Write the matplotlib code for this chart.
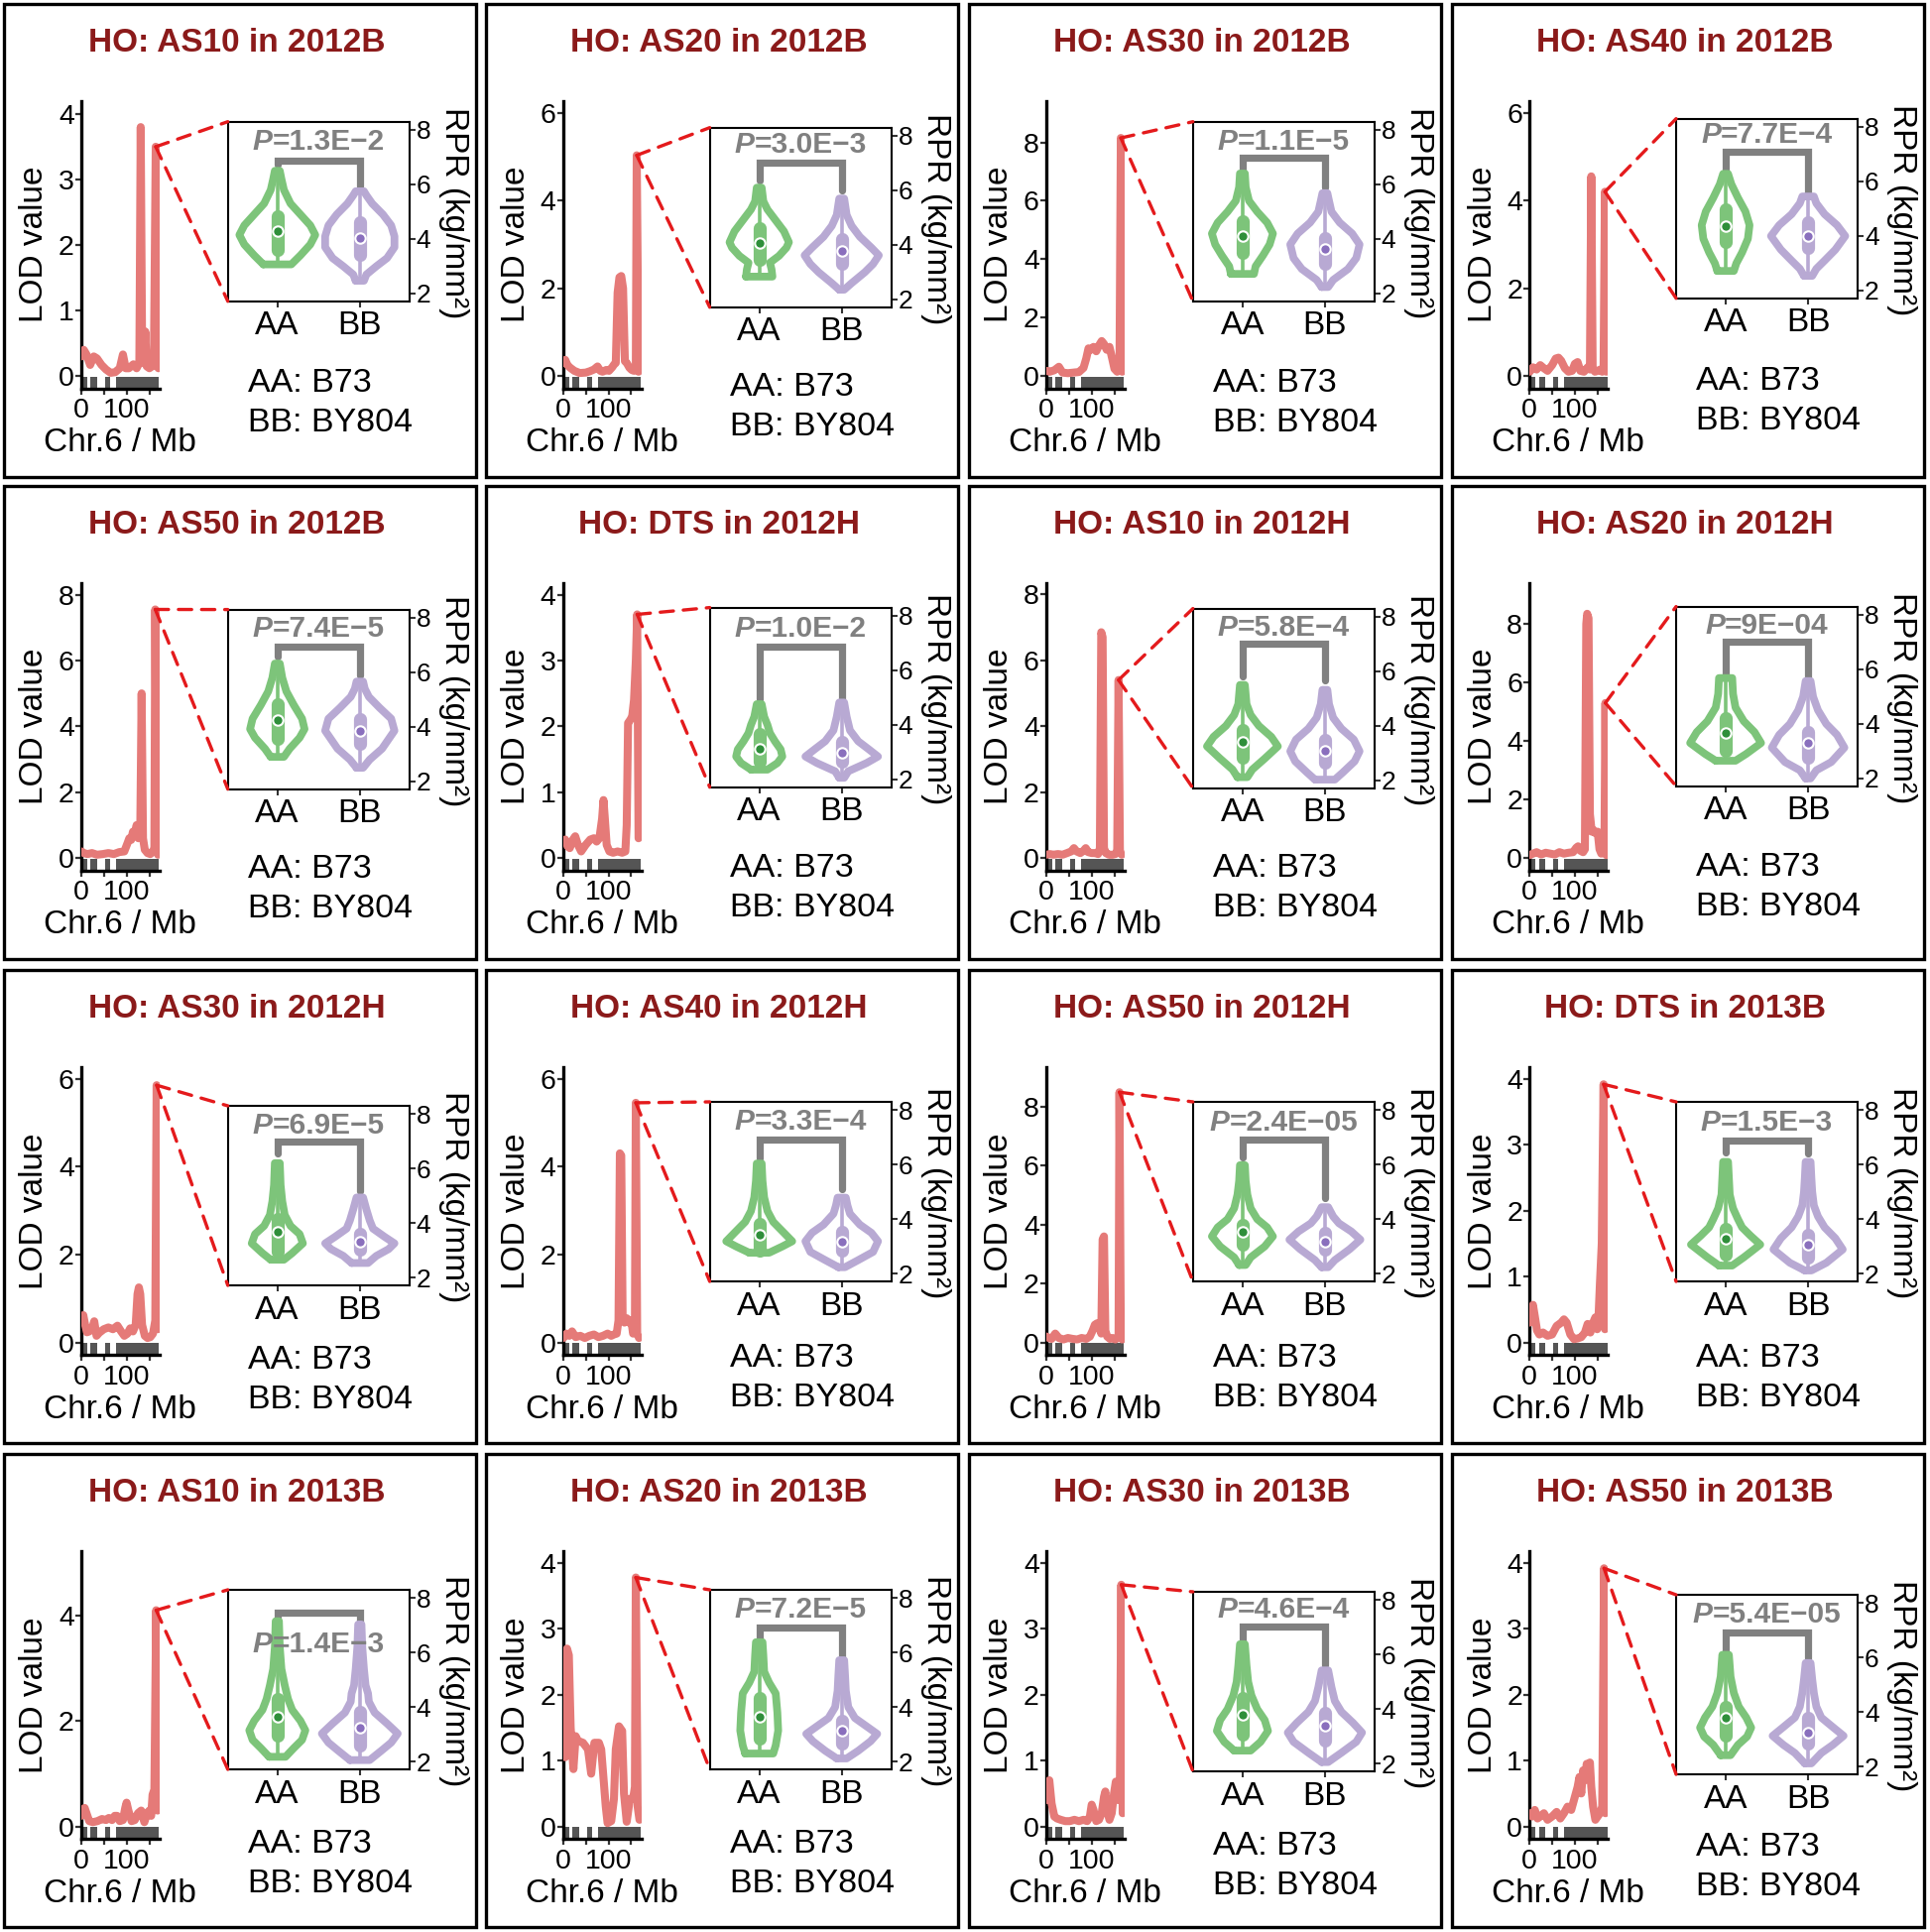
import matplotlib
matplotlib.use('Agg')
import matplotlib.pyplot as plt
from matplotlib.patches import Rectangle, ConnectionPatch
from matplotlib.offsetbox import TextArea, HPacker, AnnotationBbox
import numpy as np

plt.rcParams['font.family'] = ['Liberation Sans', 'DejaVu Sans']

# ---------------- data ----------------
TITLES = ["HO: AS10 in 2012B", "HO: AS20 in 2012B", "HO: AS30 in 2012B", "HO: AS40 in 2012B",
          "HO: AS50 in 2012B", "HO: DTS in 2012H", "HO: AS10 in 2012H", "HO: AS20 in 2012H",
          "HO: AS30 in 2012H", "HO: AS40 in 2012H", "HO: AS50 in 2012H", "HO: DTS in 2013B",
          "HO: AS10 in 2013B", "HO: AS20 in 2013B", "HO: AS30 in 2013B", "HO: AS50 in 2013B"]
P_VALUES = ["=1.3E\u22122", "=3.0E\u22123", "=1.1E\u22125", "=7.7E\u22124",
            "=7.4E\u22125", "=1.0E\u22122", "=5.8E\u22124", "=9E\u221204",
            "=6.9E\u22125", "=3.3E\u22124", "=2.4E\u221205", "=1.5E\u22123",
            "=1.4E\u22123", "=7.2E\u22125", "=4.6E\u22124", "=5.4E\u221205"]
GROUPS = ["AA", "BB"]
PARENT_TEXT = ["AA: B73", "BB: BY804"]

LOD_TOP = [4.2, 6.27, 9.42, 6.27, 8.36, 4.18, 8.35, 9.41, 6.26, 6.26, 9.35, 4.18, 5.22, 4.18, 4.18, 4.18]
LOD_TICKMAX = [4, 6, 8, 6, 8, 4, 8, 8, 6, 6, 8, 4, 4, 4, 4, 4]
LOD_STEP = [1, 2, 2, 2, 2, 1, 2, 2, 2, 2, 2, 1, 2, 1, 1, 1]

LOD_X = [
    [1, 6, 12, 20, 28, 35, 45, 55, 65, 75, 85, 92, 98, 105, 115, 122, 128, 131, 134, 138, 141, 144, 150, 156, 160, 164, 167, 170],
    [1, 5, 10, 16, 25, 37, 50, 59, 68, 76, 82, 87, 95, 101, 108, 112, 116, 120, 124, 128, 132, 136, 140, 146, 151, 156, 160, 162, 166],
    [1, 8, 18, 28, 36, 48, 60, 72, 82, 88, 93, 98, 104, 110, 116, 122, 127, 133, 139, 145, 150, 156, 161, 164, 167],
    [1, 8, 16, 24, 32, 40, 50, 58, 64, 70, 78, 86, 94, 100, 106, 112, 120, 128, 133, 136, 139, 144, 150, 156, 160, 163, 166, 169],
    [1, 6, 14, 24, 35, 48, 60, 72, 84, 95, 102, 106, 110, 114, 118, 122, 126, 130, 133, 136, 140, 146, 152, 158, 161, 163, 166, 169],
    [1, 5, 10, 15, 22, 27, 33, 40, 50, 60, 68, 74, 80, 86, 89, 92, 96, 102, 110, 120, 130, 137, 140, 143, 148, 152, 156, 160, 163, 166],
    [1, 8, 16, 26, 36, 46, 55, 61, 67, 75, 82, 87, 92, 100, 108, 114, 118, 121, 124, 127, 131, 138, 146, 152, 156, 159, 162, 166],
    [1, 8, 16, 26, 36, 46, 56, 66, 76, 86, 96, 103, 107, 112, 118, 122, 125, 127, 130, 133, 137, 141, 145, 150, 154, 158, 162, 165, 167, 169],
    [1, 5, 9, 13, 18, 24, 29, 34, 40, 50, 60, 70, 80, 88, 95, 102, 108, 114, 120, 124, 127, 130, 134, 140, 146, 152, 158, 163, 166, 169],
    [1, 8, 14, 20, 28, 38, 48, 58, 68, 78, 88, 98, 106, 112, 118, 122, 125, 128, 131, 135, 140, 145, 150, 154, 158, 160, 163, 167],
    [1, 6, 12, 20, 28, 38, 48, 58, 68, 78, 88, 96, 102, 107, 112, 117, 121, 124, 127, 130, 134, 140, 146, 152, 156, 159, 161, 164, 167],
    [1, 4, 8, 12, 17, 22, 30, 40, 50, 60, 70, 76, 82, 90, 98, 106, 114, 122, 128, 134, 140, 145, 149, 152, 155, 159, 163, 166],
    [1, 5, 8, 12, 18, 26, 36, 46, 55, 61, 68, 74, 79, 85, 92, 97, 100, 104, 111, 118, 125, 132, 139, 145, 150, 154, 157, 161, 165, 168],
    [5, 9, 13, 17, 23, 28, 33, 44, 55, 62, 69, 79, 84, 94, 98, 106, 112, 116, 123, 130, 134, 140, 147, 154, 158, 160, 164, 168],
    [1, 4, 7, 12, 18, 24, 32, 42, 52, 62, 72, 82, 90, 96, 100, 104, 110, 116, 122, 127, 130, 134, 139, 144, 149, 153, 158, 162, 165, 168],
    [1, 6, 12, 18, 24, 32, 40, 50, 60, 68, 76, 84, 92, 100, 106, 110, 114, 118, 122, 126, 130, 133, 136, 140, 145, 150, 155, 160, 164, 167],
]
LOD_Y = [
    [0.3, 0.4, 0.33, 0.17, 0.3, 0.27, 0.17, 0.1, 0.05, 0.06, 0.12, 0.33, 0.12, 0.12, 0.18, 0.12, 0.2, 3.8, 0.5, 0.2, 0.68, 0.15, 0.12, 0.15, 0.25, 3.5, 0.15, 0.12],
    [0.3, 0.37, 0.25, 0.19, 0.12, 0.07, 0.08, 0.11, 0.15, 0.22, 0.12, 0.1, 0.14, 0.12, 0.2, 0.26, 0.3, 1.9, 2.25, 2.28, 2.0, 0.34, 0.3, 0.19, 0.14, 0.12, 0.2, 5.03, 0.1],
    [0.18, 0.15, 0.2, 0.32, 0.12, 0.1, 0.12, 0.14, 0.28, 0.6, 0.95, 0.9, 1.0, 0.85, 1.05, 1.2, 1.1, 0.9, 1.0, 0.6, 0.25, 0.15, 0.2, 8.15, 0.15],
    [0.1, 0.2, 0.15, 0.25, 0.18, 0.12, 0.25, 0.4, 0.42, 0.35, 0.18, 0.1, 0.12, 0.28, 0.32, 0.12, 0.1, 0.2, 0.15, 4.55, 0.2, 0.1, 0.12, 0.15, 0.1, 0.2, 4.2, 0.1],
    [0.2, 0.15, 0.12, 0.15, 0.1, 0.12, 0.15, 0.12, 0.18, 0.2, 0.45, 0.6, 0.55, 0.8, 0.7, 1.0, 0.6, 0.8, 5.0, 0.6, 0.25, 0.15, 0.12, 0.2, 0.3, 7.55, 0.2, 0.1],
    [0.25, 0.28, 0.18, 0.15, 0.28, 0.33, 0.2, 0.1, 0.2, 0.28, 0.3, 0.25, 0.3, 0.6, 0.88, 0.6, 0.2, 0.1, 0.08, 0.1, 0.08, 0.1, 0.5, 2.05, 2.1, 2.15, 2.4, 3.0, 3.7, 0.3],
    [0.1, 0.12, 0.1, 0.12, 0.1, 0.15, 0.2, 0.3, 0.2, 0.15, 0.22, 0.3, 0.18, 0.15, 0.15, 0.12, 0.3, 6.85, 6.7, 0.3, 0.15, 0.1, 0.1, 0.12, 0.2, 5.4, 0.2, 0.1],
    [0.1, 0.15, 0.2, 0.12, 0.18, 0.15, 0.12, 0.2, 0.15, 0.18, 0.2, 0.35, 0.4, 0.25, 0.2, 0.3, 8.0, 8.35, 8.2, 1.5, 0.9, 0.95, 0.85, 0.9, 0.3, 0.15, 0.2, 0.5, 5.3, 0.1],
    [0.5, 0.62, 0.4, 0.23, 0.25, 0.3, 0.48, 0.15, 0.22, 0.3, 0.34, 0.3, 0.38, 0.25, 0.15, 0.2, 0.32, 0.25, 0.4, 1.1, 1.25, 1.1, 0.4, 0.15, 0.1, 0.12, 0.2, 0.5, 5.85, 0.3],
    [0.1, 0.2, 0.15, 0.25, 0.12, 0.15, 0.1, 0.15, 0.18, 0.12, 0.15, 0.2, 0.15, 0.18, 0.2, 0.5, 4.3, 4.25, 0.6, 0.45, 0.55, 0.45, 0.5, 0.2, 0.3, 5.45, 0.2, 0.1],
    [0.2, 0.15, 0.12, 0.3, 0.15, 0.1, 0.15, 0.12, 0.1, 0.15, 0.12, 0.2, 0.4, 0.6, 0.65, 0.5, 0.3, 3.5, 3.6, 0.4, 0.2, 0.12, 0.15, 0.1, 0.15, 0.2, 8.5, 0.2, 0.1],
    [0.3, 0.45, 0.57, 0.4, 0.18, 0.12, 0.15, 0.1, 0.12, 0.25, 0.3, 0.35, 0.3, 0.12, 0.05, 0.06, 0.08, 0.15, 0.28, 0.15, 0.3, 0.38, 0.2, 0.4, 0.9, 1.5, 3.92, 0.2],
    [0.2, 0.33, 0.35, 0.25, 0.1, 0.08, 0.1, 0.14, 0.12, 0.16, 0.12, 0.2, 0.2, 0.1, 0.12, 0.35, 0.45, 0.3, 0.1, 0.12, 0.25, 0.3, 0.08, 0.25, 0.3, 0.2, 0.6, 0.7, 4.1, 0.3],
    [1.05, 2.7, 2.6, 1.5, 0.87, 1.37, 1.3, 1.27, 1.17, 0.8, 1.27, 1.27, 1.17, 0.3, 0.05, 0.08, 0.42, 1.17, 1.52, 1.45, 0.5, 0.07, 0.42, 0.42, 0.6, 3.78, 0.3, 0.1],
    [0.4, 0.65, 0.7, 0.35, 0.15, 0.12, 0.1, 0.08, 0.08, 0.1, 0.08, 0.1, 0.08, 0.15, 0.33, 0.25, 0.08, 0.1, 0.2, 0.45, 0.53, 0.25, 0.1, 0.2, 0.5, 0.68, 0.4, 0.75, 3.67, 0.2],
    [0.2, 0.15, 0.25, 0.12, 0.15, 0.2, 0.1, 0.15, 0.22, 0.12, 0.2, 0.3, 0.25, 0.45, 0.6, 0.75, 0.5, 0.85, 0.7, 0.95, 0.8, 0.97, 0.6, 0.3, 0.1, 0.15, 0.2, 0.3, 3.92, 0.2],
]
# genotyped marker blocks along chr.6 (Mb)
MARKER_BLOCKS = [(2, 14), (21, 35), (53, 64), (77, 171)]

# violin outlines: RPR levels and half-widths
AA_Y = [[3.07, 3.4, 3.8, 4.15, 4.5, 4.9, 5.3, 5.8, 6.2, 6.5],
        [2.84, 3.1, 3.35, 3.6, 3.9, 4.1, 4.5, 4.9, 5.3, 5.6, 6.1],
        [2.72, 3.0, 3.4, 3.8, 4.2, 4.6, 5.0, 5.4, 5.9, 6.4],
        [2.72, 3.0, 3.4, 3.9, 4.4, 4.9, 5.4, 5.9, 6.28],
        [2.9, 3.2, 3.6, 3.92, 4.3, 4.8, 5.3, 5.8, 6.32],
        [2.36, 2.6, 2.84, 3.1, 3.4, 3.7, 4.0, 4.3, 4.76],
        [2.12, 2.4, 2.8, 3.25, 3.6, 4.0, 4.4, 4.8, 5.5],
        [2.65, 2.9, 3.3, 3.7, 4.1, 4.6, 5.1, 5.68],
        [2.66, 2.9, 3.26, 3.6, 3.9, 4.3, 4.8, 5.4, 6.2],
        [2.77, 3.0, 3.19, 3.5, 3.9, 4.3, 4.8, 5.4, 6.04],
        [2.32, 2.6, 3.0, 3.37, 3.7, 4.0, 4.4, 4.9, 5.4, 5.98],
        [2.3, 2.6, 3.07, 3.4, 3.7, 4.0, 4.4, 4.9, 5.5, 6.1],
        [2.18, 2.5, 2.8, 3.15, 3.5, 3.9, 4.3, 4.8, 5.4, 6.2, 7.15],
        [2.3, 2.6, 3.14, 3.8, 4.5, 4.9, 5.3, 5.9, 6.38],
        [2.48, 2.8, 3.2, 3.6, 4.0, 4.5, 5.0, 5.6, 6.38],
        [2.42, 2.8, 3.1, 3.43, 3.8, 4.2, 4.7, 5.3, 6.1]]
AA_W = [[0.17, 0.28, 0.40, 0.46, 0.40, 0.28, 0.16, 0.08, 0.05, 0.03],
        [0.16, 0.15, 0.13, 0.24, 0.33, 0.36, 0.30, 0.2, 0.1, 0.05, 0.03],
        [0.14, 0.16, 0.25, 0.33, 0.37, 0.30, 0.18, 0.08, 0.04, 0.03],
        [0.1, 0.13, 0.2, 0.27, 0.29, 0.24, 0.15, 0.07, 0.03],
        [0.08, 0.15, 0.27, 0.33, 0.3, 0.2, 0.11, 0.06, 0.03],
        [0.1, 0.22, 0.28, 0.26, 0.19, 0.13, 0.1, 0.06, 0.03],
        [0.06, 0.12, 0.27, 0.43, 0.35, 0.2, 0.1, 0.05, 0.03],
        [0.12, 0.25, 0.43, 0.35, 0.22, 0.12, 0.09, 0.08],
        [0.08, 0.18, 0.31, 0.27, 0.16, 0.09, 0.06, 0.04, 0.03],
        [0.12, 0.28, 0.4, 0.3, 0.17, 0.1, 0.06, 0.04, 0.03],
        [0.04, 0.1, 0.27, 0.37, 0.3, 0.18, 0.1, 0.06, 0.04, 0.03],
        [0.08, 0.22, 0.42, 0.3, 0.2, 0.15, 0.09, 0.05, 0.04, 0.03],
        [0.1, 0.2, 0.3, 0.34, 0.28, 0.18, 0.13, 0.09, 0.05, 0.03, 0.02],
        [0.17, 0.2, 0.23, 0.22, 0.2, 0.12, 0.06, 0.05, 0.04],
        [0.1, 0.22, 0.31, 0.27, 0.18, 0.11, 0.07, 0.05, 0.03],
        [0.06, 0.15, 0.26, 0.31, 0.25, 0.16, 0.1, 0.06, 0.04]]
BB_Y = [[2.47, 2.7, 3.0, 3.3, 3.7, 4.1, 4.5, 4.9, 5.3, 5.6, 5.75],
        [2.36, 2.6, 3.0, 3.3, 3.62, 3.9, 4.3, 4.7, 5.1, 5.7],
        [2.24, 2.5, 2.9, 3.3, 3.8, 4.2, 4.6, 5.0, 5.4, 5.68],
        [2.54, 2.8, 3.1, 3.5, 4.0, 4.4, 4.8, 5.2, 5.45],
        [2.5, 2.8, 3.2, 3.86, 4.3, 4.7, 5.1, 5.4, 5.66],
        [2.06, 2.3, 2.6, 2.84, 3.1, 3.4, 3.8, 4.3, 4.82],
        [2.03, 2.3, 2.7, 3.07, 3.5, 3.9, 4.3, 4.8, 5.32],
        [2.0, 2.3, 2.6, 3.13, 3.6, 4.0, 4.5, 5.0, 5.57],
        [2.54, 2.8, 3.05, 3.26, 3.5, 3.8, 4.1, 4.5, 4.94],
        [2.24, 2.5, 2.8, 3.19, 3.5, 3.8, 4.2, 4.5, 4.79],
        [2.24, 2.5, 2.9, 3.25, 3.55, 3.85, 4.1, 4.44],
        [2.12, 2.4, 2.89, 3.3, 3.7, 4.1, 4.5, 5.0, 5.5, 6.1],
        [2.06, 2.4, 2.7, 3.03, 3.4, 3.8, 4.2, 4.5, 4.8, 5.4, 6.2, 7.03],
        [2.12, 2.4, 2.75, 3.02, 3.3, 3.6, 4.0, 4.6, 5.2, 5.72],
        [2.06, 2.4, 2.8, 3.14, 3.5, 3.9, 4.3, 4.8, 5.42],
        [2.12, 2.5, 2.8, 3.13, 3.45, 3.8, 4.2, 4.7, 5.2, 5.8]]
BB_W = [[0.05, 0.08, 0.2, 0.33, 0.42, 0.42, 0.38, 0.28, 0.15, 0.08, 0.05],
        [0.03, 0.12, 0.28, 0.38, 0.45, 0.36, 0.22, 0.12, 0.06, 0.03],
        [0.04, 0.10, 0.28, 0.38, 0.42, 0.33, 0.18, 0.08, 0.05, 0.03],
        [0.05, 0.1, 0.2, 0.33, 0.45, 0.35, 0.2, 0.1, 0.07],
        [0.04, 0.12, 0.27, 0.42, 0.38, 0.24, 0.11, 0.06, 0.04],
        [0.03, 0.08, 0.3, 0.44, 0.33, 0.2, 0.1, 0.06, 0.03],
        [0.12, 0.22, 0.36, 0.42, 0.35, 0.2, 0.1, 0.05, 0.03],
        [0.03, 0.1, 0.28, 0.44, 0.35, 0.22, 0.12, 0.06, 0.03],
        [0.1, 0.2, 0.35, 0.42, 0.3, 0.16, 0.12, 0.08, 0.04],
        [0.04, 0.2, 0.38, 0.44, 0.36, 0.22, 0.1, 0.07, 0.05],
        [0.04, 0.12, 0.3, 0.43, 0.32, 0.17, 0.1, 0.04],
        [0.04, 0.22, 0.42, 0.33, 0.2, 0.12, 0.07, 0.05, 0.04, 0.03],
        [0.12, 0.26, 0.38, 0.46, 0.33, 0.18, 0.11, 0.1, 0.07, 0.05, 0.03, 0.02],
        [0.06, 0.2, 0.35, 0.43, 0.3, 0.16, 0.08, 0.05, 0.04, 0.03],
        [0.04, 0.2, 0.38, 0.45, 0.34, 0.2, 0.12, 0.08, 0.04],
        [0.04, 0.16, 0.3, 0.43, 0.3, 0.16, 0.1, 0.07, 0.05, 0.03]]
# boxplot (Q1, Q3, median)
AA_BOX = [(3.6, 4.85, 4.28), (3.44, 4.63, 4.07), (3.5, 4.64, 4.1), (3.79, 4.97, 4.38),
          (3.56, 4.82, 4.24), (2.66, 3.68, 3.14), (2.83, 3.84, 3.4), (3.01, 4.2, 3.66),
          (2.96, 4.16, 3.68), (2.83, 3.84, 3.42), (3.07, 3.78, 3.53), (2.71, 3.66, 3.3),
          (2.97, 4.3, 3.64), (2.84, 4.34, 3.64), (3.08, 4.4, 3.8), (3.13, 4.2, 3.78)]
BB_BOX = [(3.43, 4.6, 4.02), (3.31, 4.21, 3.79), (3.08, 4.04, 3.62), (3.55, 4.5, 4.0),
          (3.38, 4.28, 3.84), (2.66, 3.38, 2.98), (2.65, 3.49, 3.07), (2.77, 3.72, 3.3),
          (3.02, 3.62, 3.32), (2.83, 3.55, 3.17), (2.9, 3.49, 3.19), (2.6, 3.43, 3.07),
          (2.61, 3.82, 3.24), (2.66, 3.5, 3.14), (2.84, 3.86, 3.4), (2.83, 3.78, 3.25)]

# ---------------- layout / style ----------------
BRACKET_Y = [6.87, 7.02, 6.98, 7.1, 6.94, 6.88, 7.0, 7.0, 6.98, 6.93, 6.93, 6.87, 7.45, 6.92, 7.04, 6.93]
LEG_AA = [6.72, 6.36, 6.56, 6.4, 6.56, 4.94, 5.8, 5.81, 6.56, 6.22, 6.28, 6.46, 7.15, 6.44, 6.44, 6.16]
LEG_BB = [5.92, 6.0, 5.9, 5.57, 5.9, 4.94, 5.66, 5.63, 5.18, 5.09, 4.79, 6.4, 7.15, 5.78, 5.6, 5.98]
PTEXT_Y = [7.56, 7.68, 7.58, 7.7, 7.58, 7.52, 7.58, 7.58, 7.58, 7.58, 7.52, 7.52, 6.3, 7.58, 7.64, 7.58]
INSET_TOP = [119, 125, 119, 116, 125, 123, 124, 122, 137, 133, 133, 133, 137, 137, 139, 142]

W, H = 1946, 1948
PANEL_LEFT = [3.7, 489.6, 976.8, 1464]
PANEL_TOP = [3.7, 489.6, 978, 1466]
PANEL_W, PANEL_H = 476, 477

LOD_COLOR = '#E57A78'
GREEN, GREEN_DARK = '#7DC47A', '#2F8F3A'
PURPLE, PURPLE_DARK = '#B8A9D3', '#8A6FBD'
GRAY = '#808080'
RED = '#E41A1C'
TITLE_C = '#8B1A1A'
TRACK = '#555555'

fig = plt.figure(figsize=(W / 100, H / 100), dpi=100)


def fx(px):
    return px / W


def fy(py):
    return 1 - py / H


def draw_violin(ax, pos, ys, ws, box, color, dark):
    ys = np.asarray(ys, float)
    ws = np.asarray(ws, float)
    xo = np.concatenate([pos - ws, (pos + ws)[::-1], [pos - ws[0]]])
    yo = np.concatenate([ys, ys[::-1], [ys[0]]])
    ax.plot(xo, yo, color=color, lw=5.6, solid_joinstyle='round', solid_capstyle='round', zorder=3)
    ax.plot([pos, pos], [ys[0], ys[-1]], color=color, lw=2.6, zorder=3)
    q1, q3, med = box
    ax.plot([pos, pos], [q1, q3], color=color, lw=9.5, solid_capstyle='round', zorder=4)
    ax.plot([pos], [med], 'o', ms=7.5, mfc=dark, mec='white', mew=1.5, zorder=5)


for i in range(16):
    r, c = divmod(i, 4)
    L, T = PANEL_LEFT[c], PANEL_TOP[r]

    # panel frame
    fig.patches.append(Rectangle((fx(L), fy(T + PANEL_H)), PANEL_W / W, PANEL_H / H,
                                 transform=fig.transFigure, fill=False, lw=2.4, ec='black'))
    fig.text(fx(L + PANEL_W / 2 - 3), fy(T + 40), TITLES[i], ha='center', va='center',
             fontsize=24, fontweight='bold', color=TITLE_C)

    # ---- LOD profile ----
    ax = fig.add_axes([fx(L + 78), fy(T + 388), 79 / W, 290 / H])
    xs, ys = LOD_X[i], LOD_Y[i]
    ax.plot(xs, ys, color=LOD_COLOR, lw=5.8, solid_joinstyle='round', solid_capstyle='round', zorder=3)
    for a, b in MARKER_BLOCKS:
        ax.add_patch(Rectangle((a, 0), b - a, 0.04, transform=ax.get_xaxis_transform(),
                               color=TRACK, lw=0, zorder=2))
    top = LOD_TOP[i]
    ax.set_xlim(0, 172)
    ax.set_ylim(-0.045 * top, top)
    ax.set_yticks(np.arange(0, LOD_TICKMAX[i] + 0.01, LOD_STEP[i]))
    ax.set_xticks([0, 50, 100, 150])
    ax.set_xticklabels(['0', '', '100', ''])
    for s in ['top', 'right']:
        ax.spines[s].set_visible(False)
    for s in ['left', 'bottom']:
        ax.spines[s].set_linewidth(2.4)
    ax.tick_params(direction='out', length=4, width=1.6, labelsize=20.5, pad=1, color='#333333')
    ax.tick_params(axis='x', pad=3)
    fig.text(fx(L + 31), fy(T + 243), 'LOD value', rotation=90, ha='center', va='center', fontsize=24)
    fig.text(fx(L + 117), fy(T + 443), 'Chr.6 / Mb', ha='center', va='center', fontsize=24)

    # ---- violin inset ----
    itop = INSET_TOP[i]
    ins = fig.add_axes([fx(L + 226), fy(T + itop + 181), 183 / W, 181 / H])
    draw_violin(ins, 1, AA_Y[i], AA_W[i], AA_BOX[i], GREEN, GREEN_DARK)
    draw_violin(ins, 2, BB_Y[i], BB_W[i], BB_BOX[i], PURPLE, PURPLE_DARK)
    ins.plot([1, 1, 2, 2], [LEG_AA[i], BRACKET_Y[i], BRACKET_Y[i], LEG_BB[i]], color=GRAY, lw=5.2,
             solid_capstyle='round', solid_joinstyle='miter', zorder=2)
    pbox = HPacker(children=[TextArea('P', textprops=dict(fontsize=21.5, fontweight='bold', fontstyle='italic', color=GRAY)),
                             TextArea(P_VALUES[i], textprops=dict(fontsize=21.5, fontweight='bold', color=GRAY))],
                   pad=0, sep=0, align='baseline')
    ab = AnnotationBbox(pbox, (1.5, PTEXT_Y[i]), xycoords='data', frameon=False, box_alignment=(0.5, 0.5), zorder=6)
    ins.add_artist(ab)
    ins.set_xlim(0.4, 2.6)
    ins.set_ylim(1.72, 8.3)
    ins.yaxis.tick_right()
    ins.set_yticks([2, 4, 6, 8])
    ins.set_xticks([1, 2])
    ins.set_xticklabels(GROUPS)
    for s in ins.spines.values():
        s.set_linewidth(1.5)
    ins.tick_params(axis='y', direction='out', length=4, width=1.5, labelsize=19, pad=1, color='#333333')
    ins.tick_params(axis='x', direction='out', length=4, width=1.5, labelsize=24, pad=3, color='#333333')
    fig.text(fx(L + 454), fy(T + itop + 92), 'RPR (kg/mm\u00b2)', rotation=270, ha='center', va='center', fontsize=24)

    # parents
    ty = 383 + (itop - 119) * 0.6
    fig.text(fx(L + 246), fy(T + ty), PARENT_TEXT[0], ha='left', va='center', fontsize=24.5)
    fig.text(fx(L + 246), fy(T + ty + 40), PARENT_TEXT[1], ha='left', va='center', fontsize=24.5)

    # dashed zoom lines from QTL peak to inset
    xa, ya = np.asarray(xs), np.asarray(ys)
    mask = xa >= 150
    k = np.argmax(np.where(mask, ya, -1))
    for corner in [(0, 1), (0, 0)]:
        con = ConnectionPatch(xyA=(xa[k], ya[k]), coordsA='data', axesA=ax,
                              xyB=corner, coordsB='axes fraction', axesB=ins,
                              color=RED, lw=2.4, linestyle=(0, (4, 3)), zorder=10)
        fig.add_artist(con)

fig.savefig('out.png', dpi=100)
